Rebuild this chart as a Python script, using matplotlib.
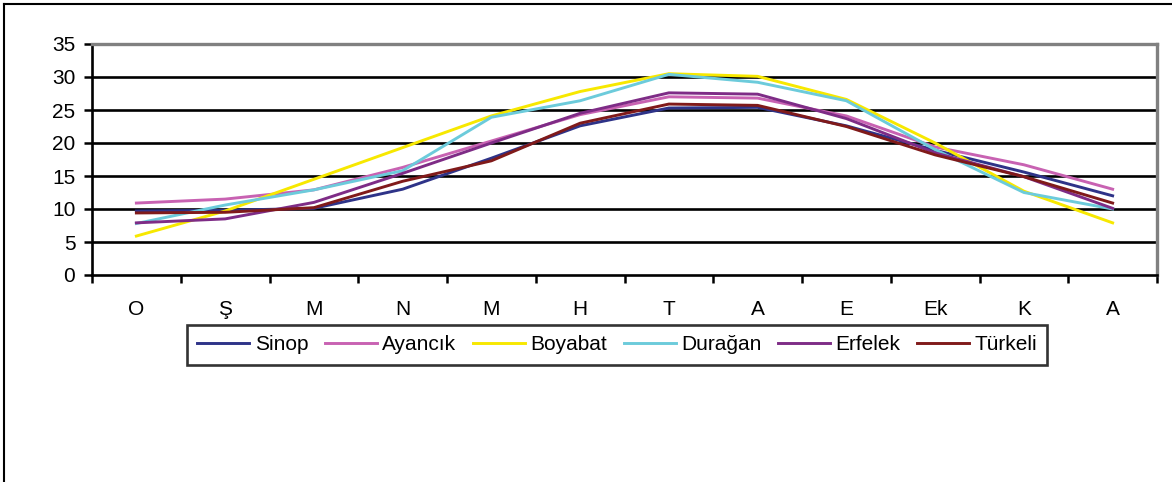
import matplotlib
matplotlib.use("Agg")
import matplotlib.pyplot as plt
from matplotlib.lines import Line2D
import numpy as np

months = ["O", "Ş", "M", "N", "M", "H", "T", "A", "E", "Ek", "K", "A"]
sinop   = [9.7, 9.8, 10.1, 13.0, 17.7, 22.6, 25.3, 25.4, 22.6, 18.9, 15.6, 12.0]
ayancik = [10.9, 11.5, 12.9, 16.3, 20.3, 24.3, 27.0, 26.8, 24.1, 19.4, 16.7, 13.0]
boyabat = [5.9, 9.7, 14.5, 19.3, 24.1, 27.8, 30.5, 30.1, 26.6, 20.0, 12.7, 7.9]
duragan = [7.8, 10.6, 12.9, 15.8, 23.9, 26.4, 30.4, 29.2, 26.4, 19.0, 12.5, 10.0]
erfelek = [7.9, 8.5, 11.0, 15.4, 20.0, 24.5, 27.6, 27.4, 23.7, 18.5, 14.9, 10.1]
turkeli = [9.4, 9.5, 10.2, 14.2, 17.3, 23.0, 25.9, 25.7, 22.5, 18.2, 14.9, 10.9]

series = [
    ("Sinop", sinop, "#2E3388"),
    ("Ayancık", ayancik, "#C862B2"),
    ("Boyabat", boyabat, "#F7E800"),
    ("Durağan", duragan, "#6CCBDB"),
    ("Erfelek", erfelek, "#7E2C86"),
    ("Türkeli", turkeli, "#801A1A"),
]

plt.rcParams['font.family'] = ['Liberation Sans', 'DejaVu Sans']
FS = 15

fig = plt.figure(figsize=(11.72, 4.82), dpi=100)
ax = fig.add_axes([92/1172, 1-275/482, (1157-92)/1172, (275-44)/482])

x = np.arange(len(months))
for name, vals, col in series:
    ax.plot(x, vals, color=col, lw=2.1, label=name)

ax.set_xlim(-0.5, len(months) - 0.5)
ax.set_ylim(0, 35)
ax.set_yticks(np.arange(0, 36, 5))
for v in range(5, 35, 5):
    ax.axhline(v, color="black", lw=1.9, zorder=0)

ax.set_xticks(np.arange(-0.5, len(months), 1.0))
ax.set_xticklabels([])
ax.set_xticks(x, minor=True)
ax.set_xticklabels(months, minor=True)
ax.tick_params(axis='x', which='major', length=6, width=1.8, direction='out', color='black')
ax.tick_params(axis='x', which='minor', length=0, pad=18, labelsize=FS)
ax.tick_params(axis='y', which='major', length=6, width=1.8, direction='out', pad=6, labelsize=FS)

for s in ['left', 'bottom']:
    ax.spines[s].set_color('black')
    ax.spines[s].set_linewidth(1.9)
for s in ['top', 'right']:
    ax.spines[s].set_color('#808080')
    ax.spines[s].set_linewidth(2.4)

leg = fig.legend(loc='center', bbox_to_anchor=(617/1172, 1-345/482), ncol=6,
                 fontsize=FS, frameon=True, fancybox=False, shadow=False,
                 handlelength=2.5, handletextpad=0.25, columnspacing=0.8,
                 borderpad=0.5, borderaxespad=0)
leg.get_frame().set_edgecolor('black')
leg.get_frame().set_linewidth(1.9)

# outer chart border (left and top visible)
fig.add_artist(Line2D([4/1172, 4/1172], [0, 1-4/482], color='black', lw=1.5, transform=fig.transFigure))
fig.add_artist(Line2D([4/1172, 1], [1-4/482, 1-4/482], color='black', lw=1.5, transform=fig.transFigure))

fig.savefig("out.png", dpi=100)
